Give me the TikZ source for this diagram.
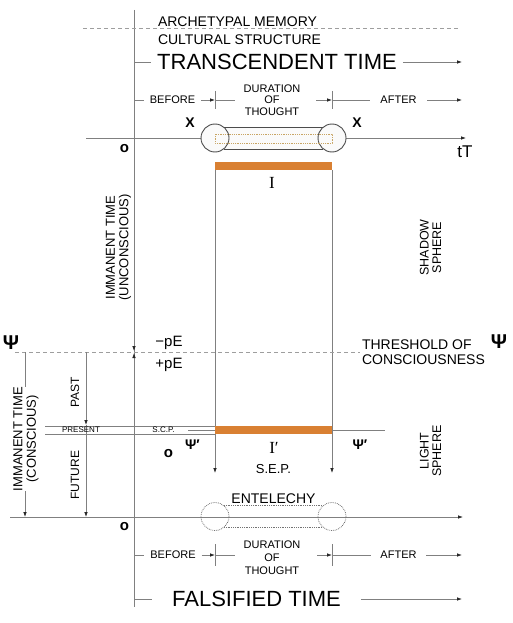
\documentclass[tikz,border=0pt]{standalone}
\usepackage{fontspec}
\setmainfont{Liberation Sans}
\newfontfamily\romanI{Liberation Serif}
\usepackage{tikz}
\usetikzlibrary{arrows.meta}
\newcommand\fsz[2]{\fontsize{#1}{#2}\selectfont}
\definecolor{ochre}{RGB}{217,128,50}
\definecolor{dotgold}{RGB}{200,165,100}
\tikzstyle{ln} = [draw=black!50,line width=0.8pt]
\tikzstyle{arr} = [ln,-{Latex[length=5pt,width=3.6pt,black!85]}]
\tikzstyle{guide} = [draw=black!38,line width=0.7pt,dash pattern=on 4pt off 3pt]
\tikzstyle{txt} = [inner sep=0pt,outer sep=0pt,text=black]
\tikzstyle{ring} = [circle,draw=black!70,line width=0.9pt,minimum size=28pt,inner sep=0pt,outer sep=0pt]
\tikzstyle{dotring} = [ring,draw=black!55,line width=0.8pt,densely dotted]
\tikzstyle{tube} = [draw=black!70,line width=0.9pt]
\tikzstyle{dottube} = [draw=black!55,line width=0.8pt,densely dotted]
\tikzstyle{obar} = [fill=ochre,minimum width=117pt,minimum height=8pt,inner sep=0pt,outer sep=0pt]

\begin{document}
\begin{tikzpicture}[x=1pt,y=-1pt]
\useasboundingbox (0,0) rectangle (513,623);

\coordinate (v0) at (134,10);
\coordinate (v1) at (134,607);
\draw[ln] (v0) -- (v1);

\coordinate (am0) at (83,28);
\coordinate (am1) at (460,28);
\draw[guide] (am0) -- (am1);
\node[txt,anchor=base west,font={\fsz{14}{16}}] (arch) at (158,26.5) {ARCHETYPAL MEMORY};
\node[txt,anchor=base west,font={\fsz{14}{16}}] (cult) at (158,45) {CULTURAL STRUCTURE};

\coordinate (tr0) at (134,62);
\coordinate (tr1) at (462,62);
\node[txt,inner xsep=6pt,font={\fsz{22}{24}}] (trans) at (277,62) {TRANSCENDENT TIME};
\draw[ln] (tr0) -- (trans);
\draw[arr] (trans) -- (tr1);

\coordinate (b0) at (134,100);
\coordinate (tk1) at (215,100);
\coordinate (tk2) at (332,100);
\coordinate (b1) at (462,100);
\node[txt,inner xsep=6pt,font={\fsz{11}{13}}] (bef1) at (172.5,100) {BEFORE};
\node[txt,inner xsep=9pt,align=center,font={\fsz{11}{11.3}}] (dur1) at (272,100) {DURATION\\OF\\THOUGHT};
\node[txt,inner xsep=10.5pt,font={\fsz{11}{13}}] (aft1) at (398.5,100) {AFTER};
\draw[ln] (b0) -- (bef1);
\draw[arr] (bef1) -- (tk1);
\draw[ln] (tk1) -- (tk1 -| dur1.west);
\draw[arr,shorten <=7pt] (tk2 -| dur1.east) -- (tk2);
\draw[ln] (tk2) -- (aft1);
\draw[arr] (aft1) -- (b1);
\draw[ln] (tk1) ++(0,-9) -- ++(0,18) (tk2) ++(0,-9) -- ++(0,18);

\coordinate (t0) at (86,138);
\coordinate (t1) at (466,138);
\draw[arr] (t0) -- (t1);
\node[txt,font={\fsz{17}{19}}] (tT) at (465,152) {tT};
\node[txt,font={\bfseries\fsz{15}{17}}] (o1) at (124.5,148.5) {o};
\node[txt,font={\bfseries\fsz{14}{16}}] (x1) at (190,123) {X};
\node[txt,font={\bfseries\fsz{14}{16}}] (x2) at (357,123) {X};

\fill[black!2] (215,138) circle[radius=14pt];
\fill[black!2] (332,138) circle[radius=14pt];
\fill[black!2] (215,127) rectangle (332,149);
\node[ring] (c1) at (215,138) {};
\node[ring] (c2) at (332,138) {};
\draw[tube] (c1.52) -- (c2.128) (c1.-52) -- (c2.-128);
\draw[dotgold,line width=0.8pt,densely dotted] (215,134) rectangle (332,143);

\node[obar] (bar1) at (273.5,166) {};
\coordinate (d1) at (215,473);
\coordinate (d2) at (332,473);
\draw[arr] (bar1.south west) -- (d1);
\draw[arr] (bar1.south east) -- (d2);
\node[txt,font={\romanI\fsz{17}{19}}] (i1) at (272,182.5) {I};

\node[txt,rotate=90,align=center,font={\fsz{13}{13.5}}] (imu) at (118.5,247.5) {IMMANENT TIME\\(UNCONSCIOUS)};
\node[txt,rotate=90,align=center,font={\fsz{12.5}{12.5}}] (shad) at (430.5,247.5) {SHADOW\\SPHERE};

\coordinate (th0) at (15,352);
\coordinate (th1) at (360,352);
\draw[guide] (th0) -- (th1);
\node[txt,anchor=north west,align=left,font={\fsz{14}{15}}] (thr) at (362,340) {THRESHOLD OF\\CONSCIOUSNESS};
\node[txt,font={\bfseries\fsz{20}{22}}] (psi1) at (11,342.5) {Ψ};
\node[txt,font={\bfseries\fsz{20}{22}}] (psi2) at (499,341.5) {Ψ};
\node[txt,anchor=base,font={\fsz{15}{17}}] (mpe) at (169,346) {−pE};
\node[txt,anchor=base,font={\fsz{15}{17}}] (ppe) at (169,368) {+pE};
\coordinate (pe0) at (134,352);
\coordinate (pa) at (134,320);
\coordinate (pb) at (134,385);
\draw[arr,shorten >=1pt] (pa) -- (pe0);
\draw[arr,shorten >=1pt] (pb) -- (pe0);

\coordinate (l1a) at (25,352);
\coordinate (l1b) at (25,517);
\coordinate (l2a) at (86,352);
\coordinate (l2b) at (86,425);
\coordinate (l2c) at (86,517);
\draw[arr] (l1a) -- (l1b);
\draw[arr] (l2a) -- (l2b);
\draw[arr] (l2b) -- (l2c);
\node[txt,rotate=90,align=center,fill=white,font={\fsz{13}{13.5}}] (imc) at (26,439) {IMMANENT TIME\\(CONSCIOUS)};
\node[txt,rotate=90,font={\fsz{12}{13}}] (past) at (75,392) {PAST};
\node[txt,rotate=90,font={\fsz{12}{13}}] (fut) at (75,475) {FUTURE};

\node[obar] (bar2) at (273.5,430) {};
\coordinate (pr0) at (45,426);
\coordinate (pr1) at (45,434);
\draw[ln,line width=0.5pt] (pr0) -- (bar2.north west) (pr1) -- (bar2.south west);
\coordinate (sc0) at (188,430);
\coordinate (sc1) at (385,430);
\draw[ln] (sc0) -- (bar2.west);
\draw[ln] (bar2.east) -- (sc1);
\node[txt,font={\fsz{8}{9}}] (pres) at (81,430) {PRESENT};
\node[txt,font={\fsz{8}{9}}] (scp) at (163.5,430) {S.C.P.};

\node[txt,font={\bfseries\fsz{14}{16}}] (psi3) at (192.5,445) {Ψ′};
\node[txt,font={\bfseries\fsz{14}{16}}] (psi4) at (360,445) {Ψ′};
\node[txt,font={\romanI\fsz{17}{19}}] (i2) at (274,447.5) {I′};
\node[txt,anchor=base,font={\fsz{13}{15}}] (sep) at (273.5,473) {S.E.P.};
\node[txt,font={\bfseries\fsz{15}{17}}] (o2) at (168.5,454) {o};
\node[txt,rotate=90,align=center,font={\fsz{12.5}{12.5}}] (light) at (430.5,451) {LIGHT\\SPHERE};

\coordinate (f0) at (10,517);
\coordinate (f1) at (463,517);
\draw[arr] (f0) -- (f1);
\node[dotring] (e1) at (215,516.5) {};
\node[dotring] (e2) at (332,516.5) {};
\draw[dottube] (e1.50) -- (e2.130) (e1.-50) -- (e2.-130);
\node[txt,anchor=base,font={\fsz{14}{16}}] (ent) at (273.5,503) {ENTELECHY};
\node[txt,font={\bfseries\fsz{15}{17}}] (o3) at (124.5,526.5) {o};

\coordinate (b2) at (134,555);
\coordinate (tk3) at (215,555);
\coordinate (tk4) at (332,555);
\coordinate (b3) at (462,555);
\node[txt,inner xsep=6pt,font={\fsz{11}{13}}] (bef2) at (173,555) {BEFORE};
\node[txt,inner xsep=9pt,align=center,font={\fsz{11}{13}}] (dur2) at (272,558) {DURATION\\OF\\THOUGHT};
\node[txt,inner xsep=9.5pt,font={\fsz{11}{13}}] (aft2) at (398.5,555) {AFTER};
\draw[ln] (b2) -- (bef2);
\draw[arr] (bef2) -- (tk3);
\draw[ln] (tk3) -- (tk3 -| dur2.west);
\draw[arr,shorten <=8pt] (tk4 -| dur2.east) -- (tk4);
\draw[ln] (tk4) -- (aft2);
\draw[arr] (aft2) -- (b3);
\draw[ln] (tk3) ++(0,-11) -- ++(0,22) (tk4) ++(0,-11) -- ++(0,22);

\coordinate (fa0) at (134,599);
\coordinate (fa1) at (462,599);
\node[txt,inner xsep=20pt,font={\fsz{22}{24}}] (fals) at (256.5,599) {FALSIFIED TIME};
\draw[ln] (fa0) -- (fals);
\draw[arr] (fals) -- (fa1);

\end{tikzpicture}
\end{document}
